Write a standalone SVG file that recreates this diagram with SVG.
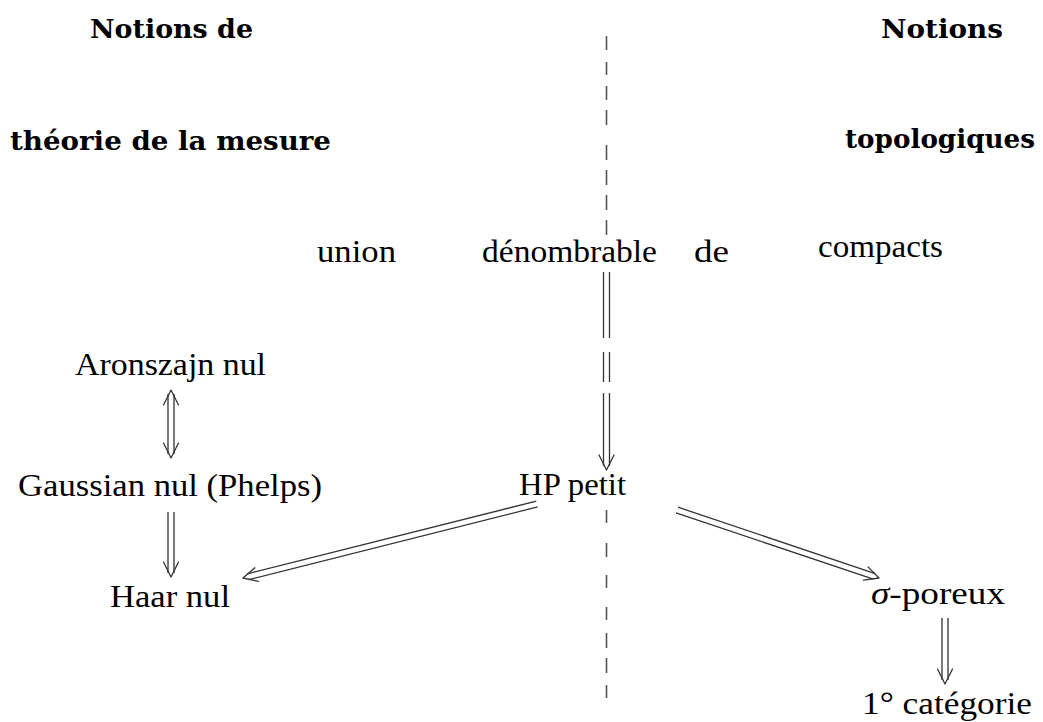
<svg xmlns="http://www.w3.org/2000/svg" width="1043" height="722" viewBox="0 0 1043 722">
<style>
text{font-family:"Liberation Serif","Times New Roman",serif;font-size:32px;fill:#000}
.b{font-family:"DejaVu Serif","Liberation Serif",serif;font-weight:bold;font-size:26px}
.dl{stroke:#333;stroke-width:1.3;fill:none}
.ah{stroke:#333;stroke-width:1.3;fill:none;stroke-linecap:round;stroke-linejoin:round}
.dash{stroke:#555;stroke-width:1.6;fill:none}
</style>
<rect width="1043" height="722" fill="#fff"/>
<g id="headings">
<text class="b" x="90" y="38" textLength="163" lengthAdjust="spacingAndGlyphs">Notions de</text>
<text class="b" x="10" y="150" textLength="321" lengthAdjust="spacingAndGlyphs">théorie de la mesure</text>
<text class="b" x="881" y="38" textLength="122" lengthAdjust="spacingAndGlyphs">Notions</text>
<text class="b" x="845" y="148" textLength="190" lengthAdjust="spacingAndGlyphs">topologiques</text>
</g>
<g id="separator">
<path class="dash" d="M606.5 36V50M606.5 62V75M606.5 86V100M606.5 110V125M606.5 145V160M606.5 170V185M606.5 195V210M606.5 220V235M606.5 510V523M606.5 543V557M606.5 575V588M606.5 607V620M606.5 633V648M606.5 658V673M606.5 685V698"/>
</g>
<g id="n-union"><text x="317" y="262" textLength="79" lengthAdjust="spacingAndGlyphs">union</text></g>
<g id="n-denombrable"><text x="482" y="262" textLength="175" lengthAdjust="spacingAndGlyphs">dénombrable</text></g>
<g id="n-de"><text x="694" y="262" textLength="35" lengthAdjust="spacingAndGlyphs">de</text></g>
<g id="n-compacts"><text x="818" y="257" textLength="125" lengthAdjust="spacingAndGlyphs">compacts</text></g>
<g id="n-aronszajn"><text x="75" y="375" textLength="191" lengthAdjust="spacingAndGlyphs">Aronszajn nul</text></g>
<g id="n-gaussian"><text x="18" y="496" textLength="304" lengthAdjust="spacingAndGlyphs">Gaussian nul (Phelps)</text></g>
<g id="n-hp"><text x="519" y="495" textLength="107" lengthAdjust="spacingAndGlyphs">HP petit</text></g>
<g id="n-haar"><text x="110" y="607" textLength="120" lengthAdjust="spacingAndGlyphs">Haar nul</text></g>
<g id="n-poreux"><text x="871" y="604" textLength="134" lengthAdjust="spacingAndGlyphs"><tspan font-style="italic">σ</tspan>-poreux</text></g>
<g id="n-categorie"><text x="862" y="714" textLength="170" lengthAdjust="spacingAndGlyphs">1° catégorie</text></g>
<g id="connectors">
<path class="dl" d="M603.5 272V338M609.5 272V338M603.5 352V382M609.5 352V382M603.5 393V466M609.5 393V466"/>
<path class="ah" d="M599 455L606.5 470L614 455"/>
<path class="dl" d="M168 394V454M174 394V454"/>
<path class="ah" d="M163.5 405L171 390L178.5 405M163.5 443L171 458L178.5 443"/>
<path class="dl" d="M168 512V573M174 512V573"/>
<path class="ah" d="M163.5 562L171 577L178.5 562"/>
<path class="dl" d="M536.3 501.1L247.1 573.9M537.7 506.9L248.6 579.7"/>
<path class="ah" d="M254.9 567.8L243 578L258.3 581.4"/>
<path class="dl" d="M676 512.8L873.3 579.2M678 507.2L875.2 573.6"/>
<path class="ah" d="M863.5 580.2L879 578L868 566.9"/>
<path class="dl" d="M942 618V680M948 618V680"/>
<path class="ah" d="M937.5 669L945 684L952.5 669"/>
</g>
</svg>
